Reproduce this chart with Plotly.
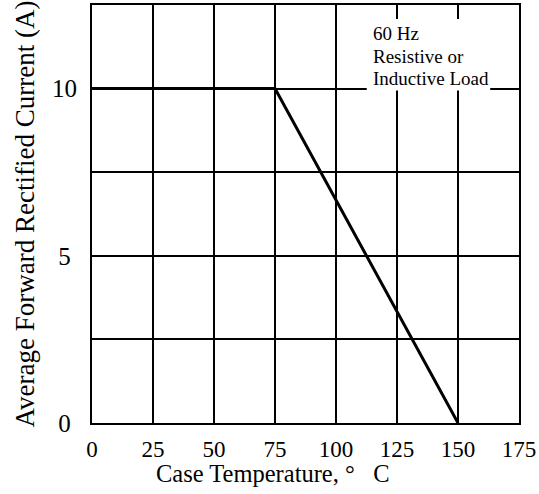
import plotly.graph_objects as go

temps = [0, 75, 150]
current = [10, 10, 0]
x_ticks = [0, 25, 50, 75, 100, 125, 150, 175]
y_grid = [0, 2.5, 5, 7.5, 10, 12.5]
y_labels = ["0\u2008", "", "5\u2008", "", "10", ""]
note_lines = ["60 Hz", "Resistive or", "Inductive Load"]
note_y = [11.64, 10.95, 10.30]

font = "Liberation Serif, Times New Roman, serif"

fig = go.Figure()
fig.add_trace(go.Scatter(x=temps, y=current, mode="lines",
                         line=dict(color="black", width=3), showlegend=False,
                         hoverinfo="skip"))

# white box behind the note, covering grid lines
fig.add_shape(type="rect", xref="x", yref="y", x0=112.6, x1=163.2, y0=9.94, y1=12.08,
              fillcolor="white", line=dict(width=0), layer="between")
for txt, yy in zip(note_lines, note_y):
    fig.add_annotation(x=114.2, y=yy, xref="x", yref="y", xanchor="left", yanchor="middle",
                       text=txt, showarrow=False, align="left",
                       font=dict(family=font, size=19, color="black"))

fig.add_annotation(x=0.424, y=-0.121, xref="paper", yref="paper",
                   xanchor="center", yanchor="middle", showarrow=False,
                   text="Case Temperature,\u00a0°\u00a0\u00a0\u00a0C",
                   font=dict(family=font, size=24.5, color="black"))

fig.update_layout(
    width=539, height=494,
    margin=dict(l=92, r=18, t=3, b=71),
    paper_bgcolor="white", plot_bgcolor="white",
    font=dict(family=font, size=25, color="black"),
)
fig.update_xaxes(range=[0, 175], tickvals=x_ticks, ticks="",
                 tickfont=dict(family=font, size=23),
                 showgrid=True, gridcolor="black", gridwidth=2,
                 showline=True, linecolor="black", linewidth=2, mirror=True,
                 zeroline=False, ticklabelstandoff=4, ticklabeloverflow="allow")
fig.update_yaxes(range=[0, 12.5], tickvals=y_grid, ticktext=y_labels, ticks="",
                 showgrid=True, gridcolor="black", gridwidth=2,
                 showline=True, linecolor="black", linewidth=2, mirror=True,
                 zeroline=False, ticklabelstandoff=8,
                 title=dict(text="Average Forward Rectified Current (A)", standoff=10,
                            font=dict(family=font, size=27)))

fig.write_html("out.html",
               post_script=("document.body.style.margin='0';"
                            "document.body.style.overflow='hidden';"
                            "document.documentElement.style.overflow='hidden';"),
               config={"displayModeBar": False})
